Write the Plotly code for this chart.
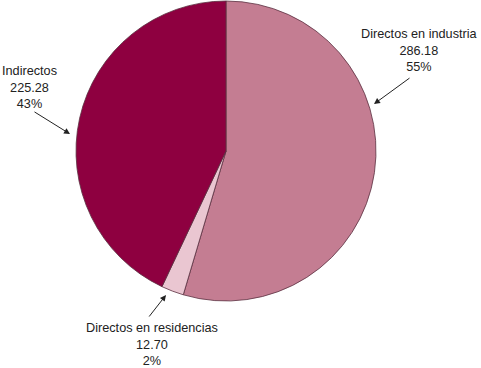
import plotly.graph_objects as go

labels = ["Directos en industria", "Directos en residencias", "Indirectos"]
values = [286.18, 12.70, 225.28]
value_text = ["286.18", "12.70", "225.28"]
pct_text = ["55%", "2%", "43%"]
colors = ["#C47D92", "#EAC6D1", "#8E0040"]

W, H = 481, 368

def px(x):
    return x / W

def py(y):
    return (H - y) / H

fig = go.Figure(go.Pie(
    labels=labels, values=values, sort=False, direction="clockwise", rotation=0,
    marker=dict(colors=colors, line=dict(color="#5A3040", width=0.8)),
    textinfo="none", hoverinfo="label+value+percent",
    domain=dict(x=[px(76), px(376)], y=[py(301), py(1)]),
    showlegend=False,
))

font = dict(family="Liberation Sans, Arial, sans-serif", size=12.7, color="#222222")
# text label positions (center x, center y in px)
text_pos = [(419, 50), (152, 344), (29, 87)]
# arrow (tail px, head px)
arrows = [((411, 77), (374, 104)), ((148, 318), (166, 295)), ((33, 111), (70, 134))]

for i in range(3):
    tx, ty = text_pos[i]
    fig.add_annotation(
        x=px(tx), y=py(ty), xref="paper", yref="paper", showarrow=False,
        text=f"{labels[i]}<br>{value_text[i]}<br>{pct_text[i]}",
        font=font, align="center", xanchor="center", yanchor="middle",
    )
    (ax0, ay0), (hx, hy) = arrows[i]
    fig.add_annotation(
        x=px(hx), y=py(hy), xref="paper", yref="paper", text="",
        showarrow=True, ax=ax0 - hx, ay=ay0 - hy,
        arrowhead=2, arrowsize=1.2, arrowwidth=1, arrowcolor="#222222",
    )

fig.update_layout(
    width=W, height=H, margin=dict(l=0, r=0, t=0, b=0),
    paper_bgcolor="white", plot_bgcolor="white",
)
fig.write_html(
    "out.html",
    config={"displayModeBar": False},
    post_script="document.body.style.margin='0';document.body.style.padding='0';document.body.style.overflow='hidden';",
)
